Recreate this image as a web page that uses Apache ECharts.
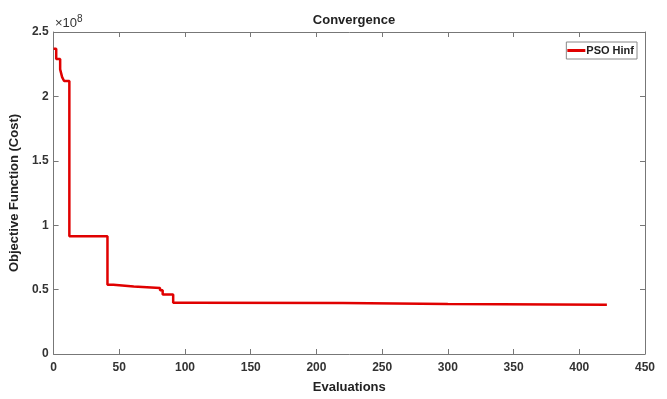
<!DOCTYPE html>
<html>
<head>
<meta charset="utf-8">
<script src="https://cdn.jsdelivr.net/npm/echarts@6/dist/echarts.min.js"></script>
<style>
  html, body { margin: 0; padding: 0; background: #fff; }
  #chart { width: 667px; height: 399px; }
</style>
</head>
<body>
<div id="chart"></div>
<script>
// evaluation where the best cost changes, and the cost from there on
var evals = [0, 2, 5, 6.5, 8, 12, 41, 45.5, 61, 81, 83, 91, 105, 220, 300, 421]
var costs = [2.37e8, 2.29e8, 2.21e8, 2.15e8, 2.12e8, 0.914e8, 0.538e8, 0.525e8, 0.513e8, 0.495e8, 0.462e8, 0.398e8, 0.395e8, 0.388e8, 0.383e8, 0.383e8]
var xTicks = [0, 50, 100, 150, 200, 250, 300, 350, 400, 450]
var yTicks = [0, 0.5, 1, 1.5, 2, 2.5]

var font = 'Liberation Sans'
var axisColor = '#777'

var data = evals.map(function (e, i) { return [e, costs[i]] })

function boxAxis(pos, isX) {
  return {
    type: 'value',
    position: pos,
    min: 0,
    max: isX ? 450 : 2.5e8,
    interval: isX ? 50 : 0.5e8,
    axisLine: { show: true, onZero: false, lineStyle: { color: axisColor, width: 1 } },
    axisTick: { show: true, inside: true, length: 5, lineStyle: { color: axisColor } },
    axisLabel: { show: false },
    splitLine: { show: false }
  }
}

var chart = echarts.init(document.getElementById('chart'))
chart.setOption({
  animation: false,
  backgroundColor: '#fff',
  title: {
    text: 'Convergence',
    left: 349,
    top: 9,
    textAlign: 'center',
    textStyle: { fontFamily: font, fontSize: 13, fontWeight: 'bold', color: '#222' }
  },
  grid: { left: 53, right: 22, top: 32, bottom: 39 },
  legend: {
    data: ['PSO Hinf'],
    right: 30,
    top: 42,
    orient: 'vertical',
    icon: 'rect',
    itemWidth: 18,
    itemHeight: 3,
    itemGap: 0,
    padding: [3, 3, 3, 1],
    borderColor: '#888',
    borderWidth: 1,
    backgroundColor: '#fff',
    textStyle: { fontFamily: font, fontSize: 11, fontWeight: 'bold', color: '#222', padding: [0, 0, 0, -4] }
  },
  graphic: [{
    type: 'text',
    left: 55,
    top: 14,
    style: {
      text: '×10{s|8}',
      font: '13px "Liberation Sans"',
      fill: '#333',
      rich: { s: { fontSize: 10, verticalAlign: 'top', padding: [0, 0, 8, 0], fill: '#333', fontFamily: font } }
    }
  }],
  xAxis: [
    Object.assign(boxAxis('bottom', true), {
      name: 'Evaluations',
      nameLocation: 'middle',
      nameGap: 27,
      nameTextStyle: { fontFamily: font, fontSize: 13, fontWeight: 'bold', color: '#222' },
      axisLabel: {
        show: true,
        margin: 8,
        fontFamily: font, fontSize: 12, fontWeight: 'bold', color: '#333',
        formatter: function (v) { return xTicks.indexOf(v) >= 0 ? String(v) : '' }
      }
    }),
    boxAxis('top', true)
  ],
  yAxis: [
    Object.assign(boxAxis('left', false), {
      name: 'Objective Function (Cost)',
      nameLocation: 'middle',
      nameGap: 21,
      nameTextStyle: { fontFamily: font, fontSize: 13, fontWeight: 'bold', color: '#222' },
      axisLabel: {
        show: true,
        margin: 5,
        fontFamily: font, fontSize: 12, fontWeight: 'bold', color: '#333',
        formatter: function (v) {
          var t = Math.round(v / 1e7) / 10
          return yTicks.indexOf(t) >= 0 ? String(t) : ''
        }
      }
    }),
    boxAxis('right', false)
  ],
  series: [{
    name: 'PSO Hinf',
    type: 'line',
    step: 'end',
    data: data,
    symbol: 'none',
    itemStyle: { color: '#e00000' },
    lineStyle: { color: '#e00000', width: 2.5 }
  }]
})
</script>
</body>
</html>
